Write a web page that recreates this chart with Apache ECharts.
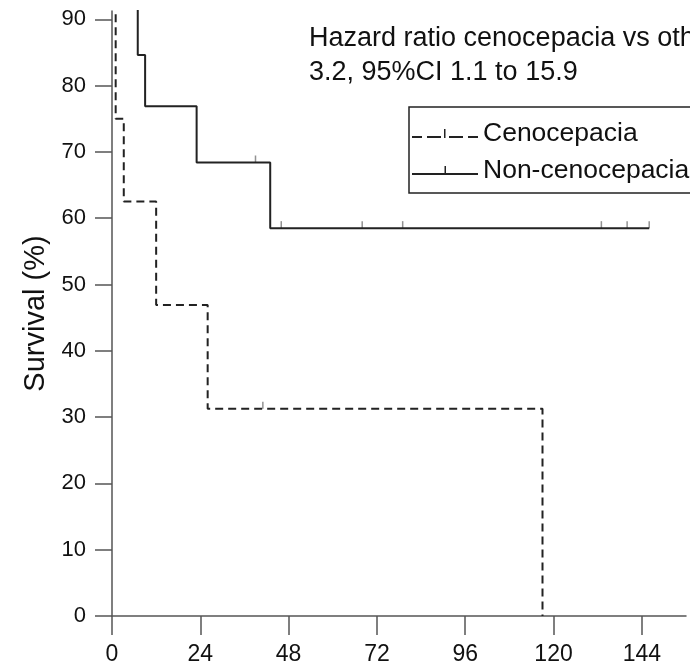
<!DOCTYPE html>
<html>
<head>
<meta charset="utf-8">
<script src="https://cdn.jsdelivr.net/npm/echarts@6/dist/echarts.min.js"></script>
<style>
  html, body { margin: 0; padding: 0; background: #fff; }
  #chart { width: 690px; height: 666px; }
</style>
</head>
<body>
<div id="chart"></div>
<script>
'use strict';

// Kaplan-Meier steps: [months, survival %]
var cenoSteps = [[0, 100], [1, 75], [3.2, 62.5], [12, 46.9], [26, 31.25], [117, 0]];
var otherSteps = [[0, 100], [7, 84.6], [9, 76.9], [23, 68.4], [43, 58.5], [146, 58.5]];
// censored observations
var cenoCensor = [[41, 31.25]];
var otherCensor = [[39, 68.4], [46, 58.5], [68, 58.5], [79, 58.5], [133, 58.5], [140, 58.5], [146, 58.5]];

var xTicks = [0, 24, 48, 72, 96, 120, 144];
var yTicks = [0, 10, 20, 30, 40, 50, 60, 70, 80, 90];

var names = ['Cenocepacia', 'Non-cenocepacia'];
var noteLines = ['Hazard ratio cenocepacia vs others', '3.2, 95%CI 1.1 to 15.9'];

var font = 'Liberation Sans';
var axisColor = '#555';

var dashIcon = 'path://M0,7h10v2h-10z M15,7h14v2h-14z M32,0h1.5v9h-1.5z M37,7h14v2h-14z M56,7h10v2h-10z';
var solidIcon = 'path://M0,7h66v2h-66z M32.5,0h1.5v7h-1.5z';

var chartDom = document.getElementById('chart');
var myChart = echarts.init(chartDom, null, {renderer: 'canvas'});

var option = {
  animation: false,
  grid: {left: 112, right: 4, top: 11, bottom: 50},
  title: {
    text: noteLines.join('\n'),
    left: 309,
    top: 22,
    padding: 0,
    textStyle: {
      fontFamily: font,
      fontSize: 27,
      fontWeight: 'normal',
      color: '#111',
      lineHeight: 34
    }
  },
  legend: {
    data: [
      {name: names[0], icon: dashIcon},
      {name: names[1], icon: solidIcon}
    ],
    orient: 'vertical',
    left: 409,
    top: 107,
    padding: [13, 20, 9, 3],
    itemWidth: 66,
    itemHeight: 14,
    itemGap: 10,
    borderColor: '#222',
    borderWidth: 1.5,
    textStyle: {fontFamily: font, fontSize: 26.5, color: '#111', lineHeight: 26}
  },
  xAxis: {
    type: 'value',
    min: 0,
    max: 156,
    splitLine: {show: false},
    axisLine: {lineStyle: {color: axisColor, width: 1.5}},
    axisTick: {customValues: xTicks, length: 19, lineStyle: {color: axisColor, width: 1.5}},
    axisLabel: {
      customValues: xTicks,
      margin: 27,
      fontFamily: font,
      fontSize: 23,
      color: '#111'
    }
  },
  yAxis: {
    type: 'value',
    min: 0,
    max: 91.25,
    name: 'Survival (%)',
    nameLocation: 'middle',
    nameGap: 60,
    nameTextStyle: {fontFamily: font, fontSize: 29, color: '#111'},
    splitLine: {show: false},
    axisLine: {show: true, lineStyle: {color: axisColor, width: 1.5}},
    axisTick: {show: true, customValues: yTicks, length: 17, lineStyle: {color: axisColor, width: 1.5}},
    axisLabel: {
      customValues: yTicks,
      margin: 26,
      fontFamily: font,
      fontSize: 22,
      color: '#111'
    }
  },
  series: [
    {
      name: names[0],
      type: 'line',
      step: 'end',
      data: cenoSteps,
      symbol: 'none',
      itemStyle: {color: '#222'},
      lineStyle: {color: '#222', width: 2, type: [8, 5]}
    },
    {
      name: names[1],
      type: 'line',
      step: 'end',
      data: otherSteps,
      symbol: 'none',
      itemStyle: {color: '#222'},
      lineStyle: {color: '#222', width: 2}
    },
    {
      type: 'scatter',
      data: cenoCensor.concat(otherCensor),
      symbol: 'rect',
      symbolSize: [1.5, 7],
      symbolOffset: [0, -3.5],
      itemStyle: {color: '#777'},
      silent: true
    }
  ]
};

option && myChart.setOption(option);
</script>
</body>
</html>
